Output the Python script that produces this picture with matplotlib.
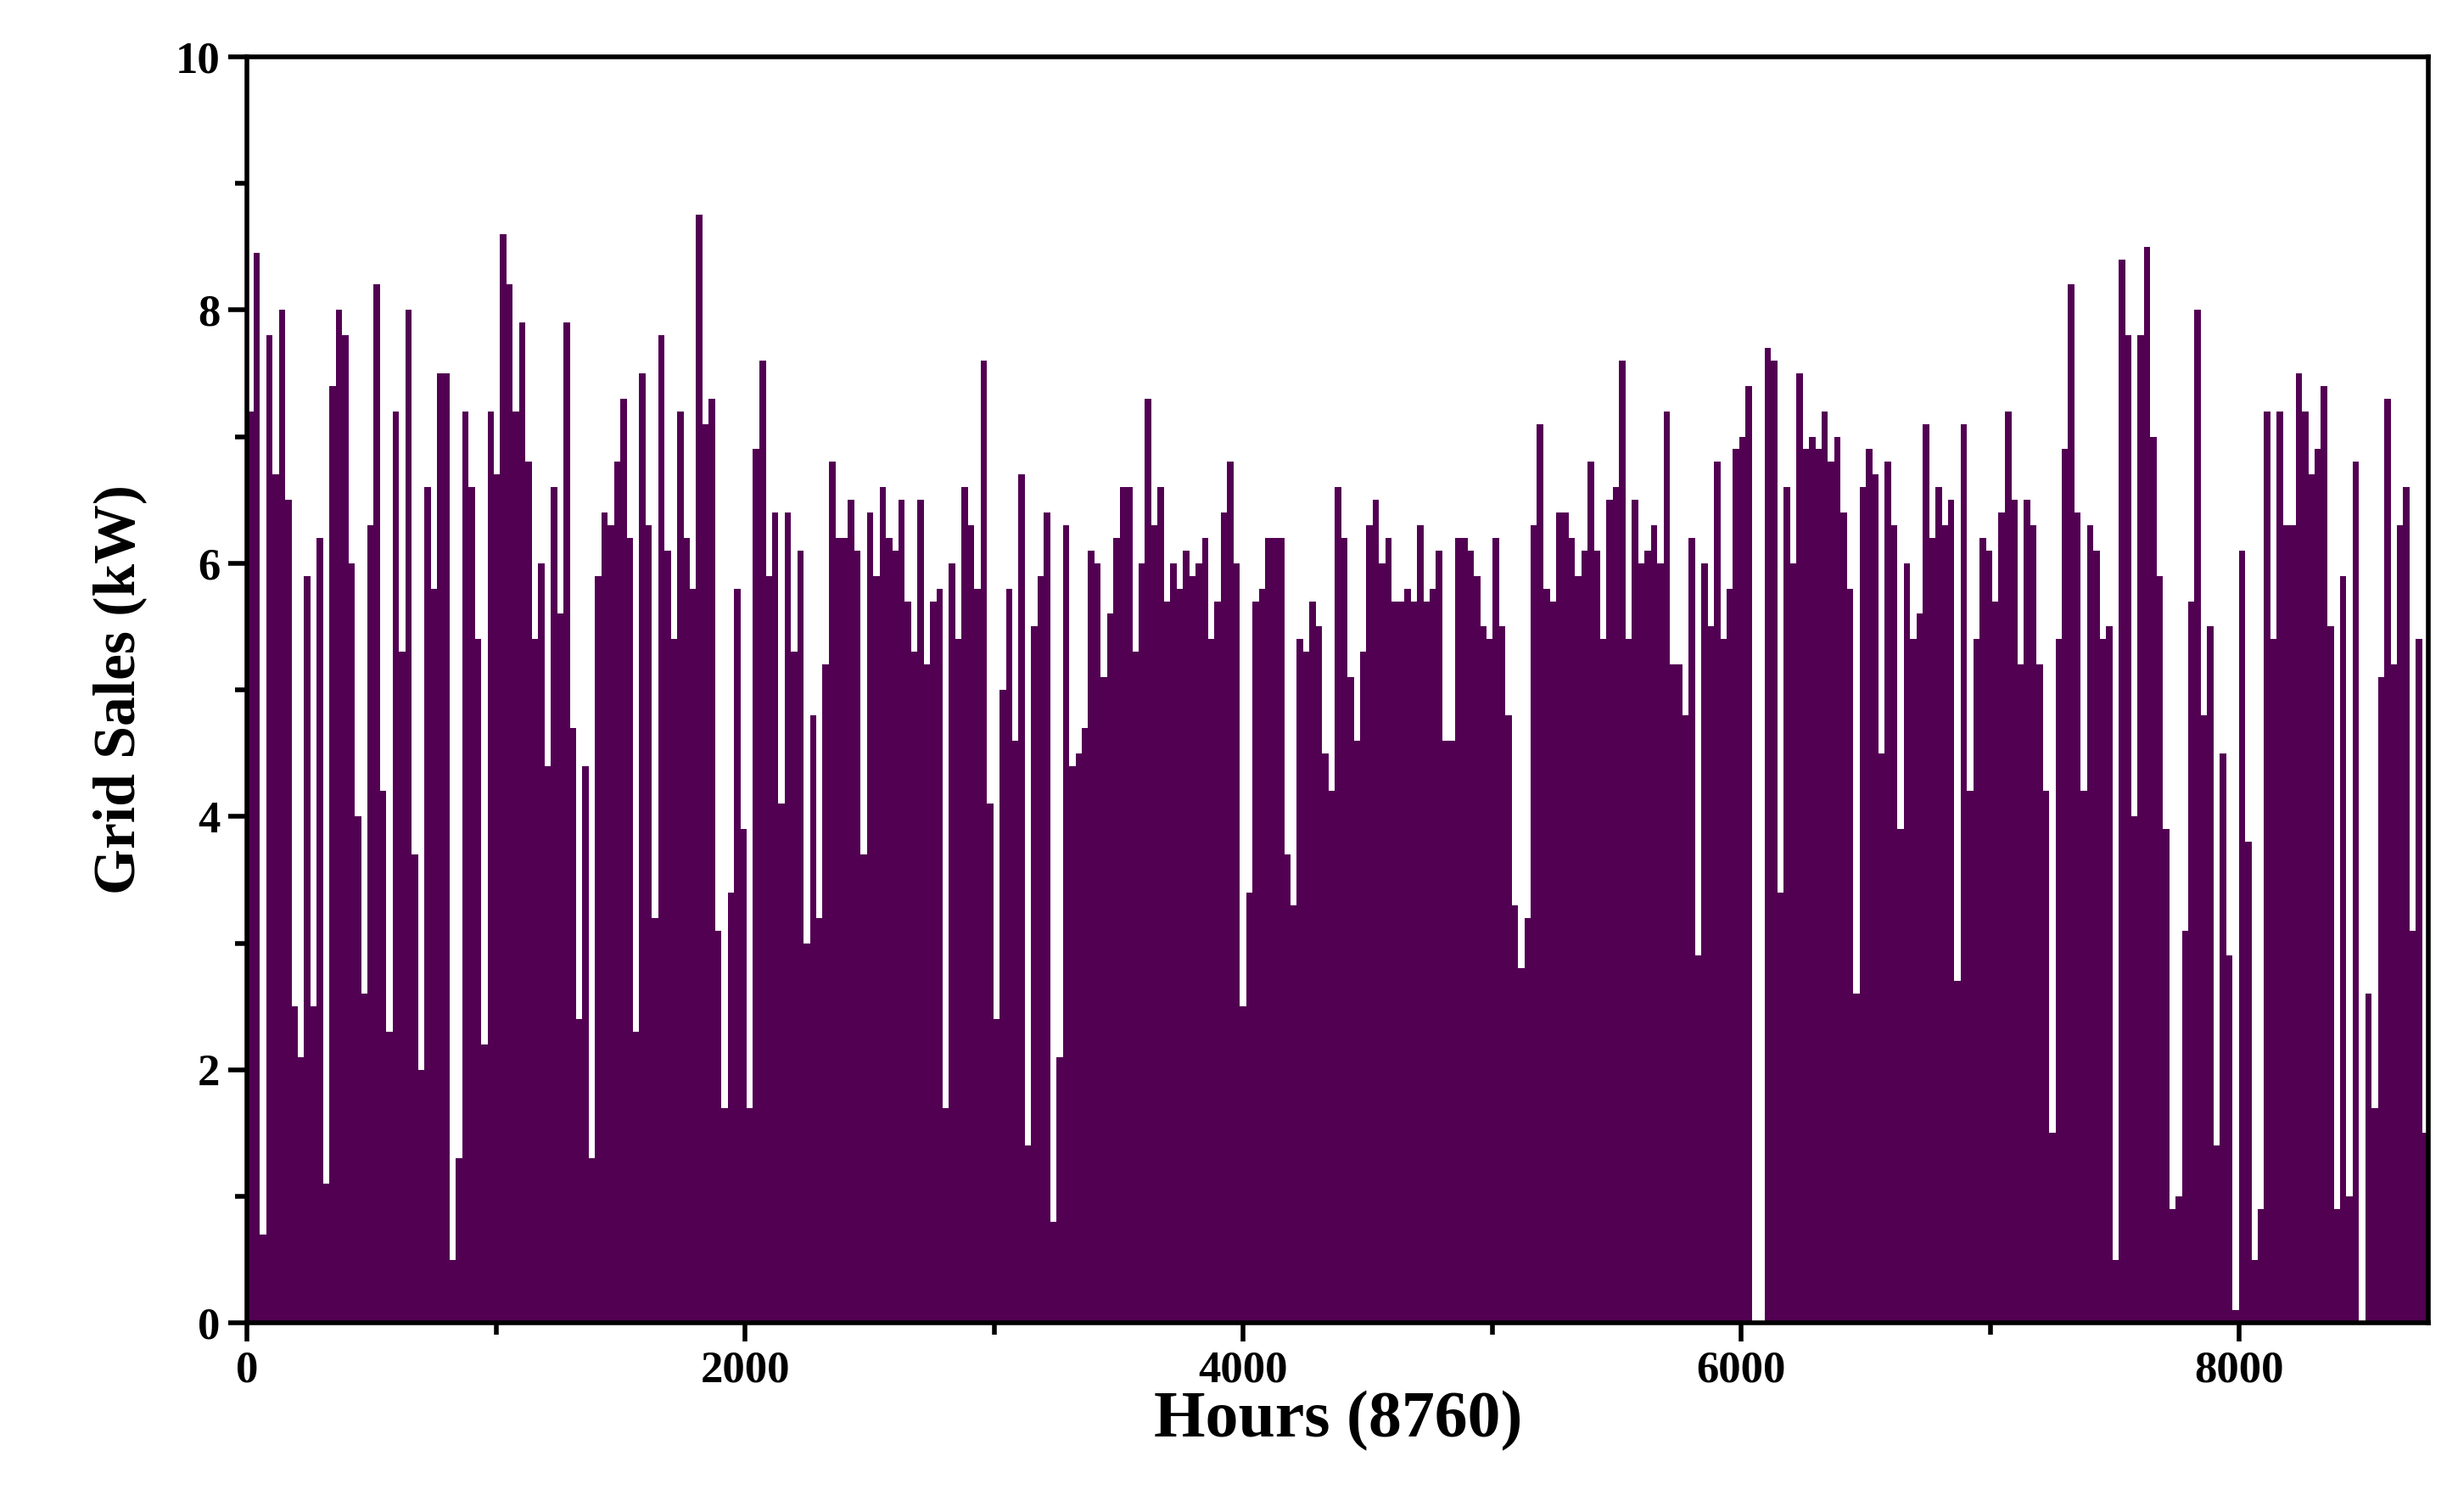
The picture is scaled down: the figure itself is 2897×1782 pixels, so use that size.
import numpy as np
import matplotlib.pyplot as plt
from matplotlib.ticker import MultipleLocator

# approximate peak grid sales (kW), read left to right across the year
sales = [7.2, 8.45, 0.7, 7.8, 6.7, 8.0, 6.5, 2.5, 2.1, 5.9, 2.5, 6.2, 1.1, 7.4, 8.0, 7.8, 6.0, 4.0, 2.6, 6.3,
         8.2, 4.2, 2.3, 7.2, 5.3, 8.0, 3.7, 2.0, 6.6, 5.8, 7.5, 7.5, 0.5, 1.3, 7.2, 6.6, 5.4, 2.2, 7.2, 6.7,
         8.6, 8.2, 7.2, 7.9, 6.8, 5.4, 6.0, 4.4, 6.6, 5.6, 7.9, 4.7, 2.4, 4.4, 1.3, 5.9, 6.4, 6.3, 6.8, 7.3,
         6.2, 2.3, 7.5, 6.3, 3.2, 7.8, 6.1, 5.4, 7.2, 6.2, 5.8, 8.75, 7.1, 7.3, 3.1, 1.7, 3.4, 5.8, 3.9, 1.7,
         6.9, 7.6, 5.9, 6.4, 4.1, 6.4, 5.3, 6.1, 3.0, 4.8, 3.2, 5.2, 6.8, 6.2, 6.2, 6.5, 6.1, 3.7, 6.4, 5.9,
         6.6, 6.2, 6.1, 6.5, 5.7, 5.3, 6.5, 5.2, 5.7, 5.8, 1.7, 6.0, 5.4, 6.6, 6.3, 5.8, 7.6, 4.1, 2.4, 5.0,
         5.8, 4.6, 6.7, 1.4, 5.5, 5.9, 6.4, 0.8, 2.1, 6.3, 4.4, 4.5, 4.7, 6.1, 6.0, 5.1, 5.6, 6.2, 6.6, 6.6,
         5.3, 6.0, 7.3, 6.3, 6.6, 5.7, 6.0, 5.8, 6.1, 5.9, 6.0, 6.2, 5.4, 5.7, 6.4, 6.8, 6.0, 2.5, 3.4, 5.7,
         5.8, 6.2, 6.2, 6.2, 3.7, 3.3, 5.4, 5.3, 5.7, 5.5, 4.5, 4.2, 6.6, 6.2, 5.1, 4.6, 5.3, 6.3, 6.5, 6.0,
         6.2, 5.7, 5.7, 5.8, 5.7, 6.3, 5.7, 5.8, 6.1, 4.6, 4.6, 6.2, 6.2, 6.1, 5.9, 5.5, 5.4, 6.2, 5.5, 4.8,
         3.3, 2.8, 3.2, 6.3, 7.1, 5.8, 5.7, 6.4, 6.4, 6.2, 5.9, 6.1, 6.8, 6.1, 5.4, 6.5, 6.6, 7.6, 5.4, 6.5,
         6.0, 6.1, 6.3, 6.0, 7.2, 5.2, 5.2, 4.8, 6.2, 2.9, 6.0, 5.5, 6.8, 5.4, 5.8, 6.9, 7.0, 7.4, 0.0, 0.0,
         7.7, 7.6, 3.4, 6.6, 6.0, 7.5, 6.9, 7.0, 6.9, 7.2, 6.8, 7.0, 6.4, 5.8, 2.6, 6.6, 6.9, 6.7, 4.5, 6.8,
         6.3, 3.9, 6.0, 5.4, 5.6, 7.1, 6.2, 6.6, 6.3, 6.5, 2.7, 7.1, 4.2, 5.4, 6.2, 6.1, 5.7, 6.4, 7.2, 6.5,
         5.2, 6.5, 6.3, 5.2, 4.2, 1.5, 5.4, 6.9, 8.2, 6.4, 4.2, 6.3, 6.1, 5.4, 5.5, 0.5, 8.4, 7.8, 4.0, 7.8,
         8.5, 7.0, 5.9, 3.9, 0.9, 1.0, 3.1, 5.7, 8.0, 4.8, 5.5, 1.4, 4.5, 2.9, 0.1, 6.1, 3.8, 0.5, 0.9, 7.2,
         5.4, 7.2, 6.3, 6.3, 7.5, 7.2, 6.7, 6.9, 7.4, 5.5, 0.9, 5.9, 1.0, 6.8, 0.0, 2.6, 1.7, 5.1, 7.3, 5.2,
         6.3, 6.6, 3.1, 5.4, 1.5]

n = len(sales)
step = 8760 / n
hours = np.arange(n) * step + step / 2

plt.rcParams['font.family'] = ['Liberation Serif', 'DejaVu Serif']
plt.rcParams['font.weight'] = 'bold'

fig = plt.figure(figsize=(14.485, 8.91), dpi=200)
ax = fig.add_axes([0.1006, 0.125, 0.8874, 0.8375])
ax.bar(hours, sales, width=step * 1.02, color='#520052', edgecolor='none')

ax.set_xlim(0, 8760)
ax.set_ylim(0, 10)
ax.xaxis.set_major_locator(MultipleLocator(2000))
ax.xaxis.set_minor_locator(MultipleLocator(1000))
ax.yaxis.set_major_locator(MultipleLocator(2))
ax.yaxis.set_minor_locator(MultipleLocator(1))
ax.tick_params(axis='both', which='both', width=2, labelsize=19)
ax.tick_params(axis='both', which='major', length=8)
ax.tick_params(axis='both', which='minor', length=5)
for s in ax.spines.values():
    s.set_linewidth(2)
for lab in ax.get_xticklabels() + ax.get_yticklabels():
    lab.set_fontweight('bold')

ax.set_xlabel('Hours (8760)', fontsize=28, fontweight='bold', labelpad=0)
ax.set_ylabel('Grid Sales (kW)', fontsize=25, fontweight='bold', labelpad=12)

fig.savefig('out.png', dpi=200)
